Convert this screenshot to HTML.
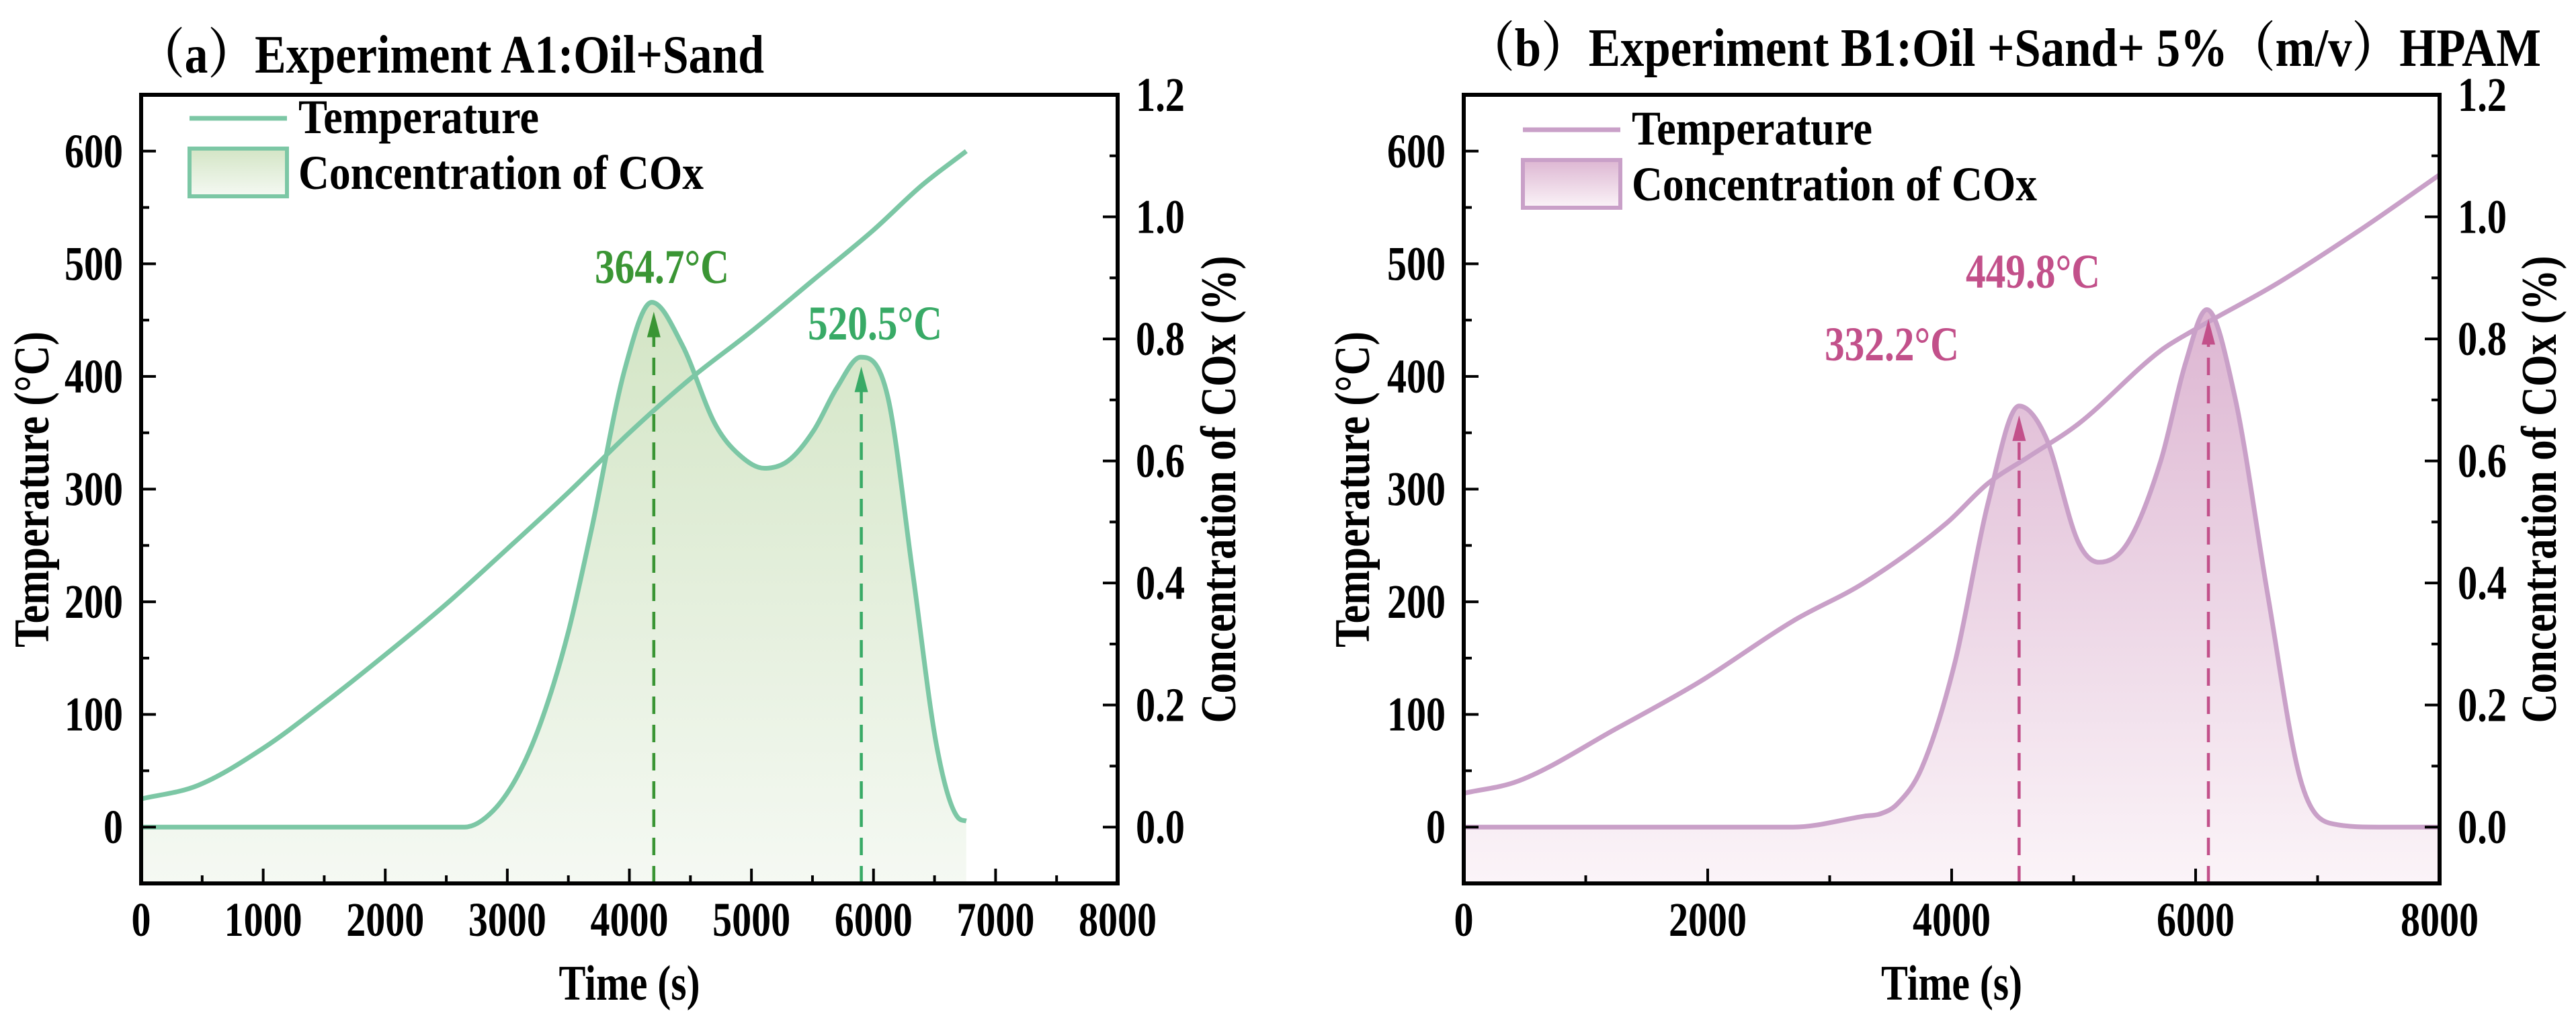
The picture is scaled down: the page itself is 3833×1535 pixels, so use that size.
<!DOCTYPE html>
<html><head><meta charset="utf-8"><style>
html,body{margin:0;padding:0;background:#fff;}
svg{display:block;font-family:"Liberation Serif","Noto Serif CJK SC",serif;font-weight:bold;}
</style></head><body>
<svg id="chart" xmlns="http://www.w3.org/2000/svg" width="3833" height="1535" viewBox="0 0 3833 1535">
<defs>
<linearGradient id="gA" x1="0" y1="0" x2="0" y2="1"><stop offset="0" stop-color="#d3e5c5"/><stop offset="1" stop-color="#f5f9f3"/></linearGradient>
<linearGradient id="gB" x1="0" y1="0" x2="0" y2="1"><stop offset="0" stop-color="#ddb6d2"/><stop offset="1" stop-color="#fbf4f8"/></linearGradient>
</defs>
</svg>
<script>
// Panel A data
const aTempT = [0,465,1000,1500,2000,2500,3000,3500,4000,4500,5000,5500,6000,6400,6760];
const aTempV = [25,37,70,110,153,198,247,297,350,398,440,485,530,570,600];
const aCoxT = [0,1000,2000,2650,2885,3100,3290,3500,3692,3962,4184,4433,4703,4900,5108,5300,5511,5700,5895,6117,6319,6520,6690,6760];
const aCoxV = [0,0,0,0,0.027,0.09,0.18,0.32,0.49,0.75,0.86,0.79,0.66,0.61,0.588,0.6,0.65,0.72,0.77,0.705,0.42,0.13,0.016,0.01];
const aPeakT = [4200,5900];
const aPeakLabels = ["364.7°C","520.5°C"];
// Panel B data
const bTempT = [0,450,1260,1935,2700,3285,3960,4297,4635,5040,5714,5984,6660,7334,8000];
const bTempV = [30,41,88,129,183,217,270,305,329,358,423,441,482,529,579];
const bCoxT = [0,1000,2000,2700,3285,3420,3555,3757,4027,4297,4553,4769,5040,5208,5444,5714,5917,6092,6322,6592,6862,7132,7500,8000];
const bCoxV = [0,0,0,0,0.018,0.022,0.038,0.098,0.27,0.53,0.69,0.64,0.466,0.434,0.466,0.6,0.76,0.848,0.705,0.38,0.076,0.005,0,0];
const bPeakT = [4553,6105];
const bPeakLabels = ["332.2°C","449.8°C"];
const xTicksA = [0,1000,2000,3000,4000,5000,6000,7000,8000];
const xTicksB = [0,2000,4000,6000,8000];
const yTicksL = [0,100,200,300,400,500,600];
const yTicksR = [0.0,0.2,0.4,0.6,0.8,1.0,1.2];

const NS="http://www.w3.org/2000/svg";
const svg=document.getElementById('chart');
function mk(tag,attrs,parent){const e=document.createElementNS(NS,tag);for(const k in attrs)e.setAttribute(k,attrs[k]);(parent||svg).appendChild(e);return e;}
function smooth(p){ // monotone cubic
  const n=p.length,d=[],m=[];
  for(let i=0;i<n-1;i++)d.push((p[i+1][1]-p[i][1])/(p[i+1][0]-p[i][0]));
  m[0]=d[0];m[n-1]=d[n-2];
  for(let i=1;i<n-1;i++){m[i]=(d[i-1]*d[i]<=0)?0:(d[i-1]+d[i])/2;}
  for(let i=0;i<n-1;i++){if(d[i]===0){m[i]=0;m[i+1]=0;continue;}const a=m[i]/d[i],b=m[i+1]/d[i],s=a*a+b*b;if(s>9){const t=3/Math.sqrt(s);m[i]=t*a*d[i];m[i+1]=t*b*d[i];}}
  let s="M"+p[0][0].toFixed(1)+","+p[0][1].toFixed(1);
  for(let i=0;i<n-1;i++){const h=(p[i+1][0]-p[i][0])/3;s+=" C"+(p[i][0]+h).toFixed(1)+","+(p[i][1]+m[i]*h).toFixed(1)+" "+(p[i+1][0]-h).toFixed(1)+","+(p[i+1][1]-m[i+1]*h).toFixed(1)+" "+p[i+1][0].toFixed(1)+","+p[i+1][1].toFixed(1);}
  return s;}
function txt(s,attrs,parent,name){const e=mk('text',attrs,parent);e.textContent=s;return e;}

function panel(o){
  const g=mk('g',{});
  
  
  const L=o.L,R=o.R,T=141,B=1314;
  const xs=t=>L+(t/8000)*(R-L);
  const yl=v=>B-(v+50)/700*(B-T);
  const yr=v=>yl(0)-v*(yl(0)-T)/1.2;
  const cp=o.coxT.map((t,i)=>[xs(t),yr(o.coxV[i])]);
  const cd=smooth(cp);
  const fill=mk('path',{d:cd+" L"+cp[cp.length-1][0]+","+B+" L"+cp[0][0]+","+B+" Z",fill:o.grad,stroke:'none'},g);
  
  
  const cl=mk('path',{d:cd,fill:'none',stroke:o.line,'stroke-width':7,'stroke-linejoin':'round'},g);
  
  
  const tp=o.tempT.map((t,i)=>[xs(t),yl(o.tempV[i])]);
  const tl=mk('path',{d:smooth(tp),fill:'none',stroke:o.line,'stroke-width':7,'stroke-linejoin':'round'},g);
  
  
  o.peakT.forEach((pt,i)=>{
    let best=0;o.coxT.forEach((t,j)=>{if(Math.abs(t-pt)<Math.abs(o.coxT[best]-pt))best=j;});
    const py=yr(o.coxV[best])+14,px=xs(pt);
    const ln=mk('line',{x1:px,y1:B,x2:px,y2:py+30,stroke:o.arrow[i],'stroke-width':4.5,'stroke-dasharray':'26,16'},g);
    
    
    const hd=mk('polygon',{points:`${px-10},${py+38} ${px+10},${py+38} ${px},${py}`,fill:o.arrow[i]},g);
    
    
    txt(o.peakLabels[i],{x:o.labX[i],y:o.labY[i],'text-anchor':'middle','font-size':72,fill:o.arrow[i],textLength:o.labW,lengthAdjust:'spacingAndGlyphs'},g,'peak-label');
  });
  const fr=mk('rect',{x:L,y:T,width:R-L,height:B-T,fill:'none',stroke:'#000','stroke-width':6},g);
  
  
  for(let t=0;t<=8000;t+=o.xMinor){const major=o.xTicks.includes(t);const tk=mk('line',{x1:xs(t),x2:xs(t),y1:B,y2:B-(major?22:12),stroke:'#000','stroke-width':4},g);}
  o.xTicks.forEach(t=>txt(String(t),{x:xs(t),y:1392,'text-anchor':'middle','font-size':72,textLength:String(t).length*29,lengthAdjust:'spacingAndGlyphs'},g,'x-tick-label'));
  for(let v=-50;v<=650;v+=50){const major=yTicksL.includes(v);const tk=mk('line',{x1:L,x2:L+(major?22:12),y1:yl(v),y2:yl(v),stroke:'#000','stroke-width':4},g);}
  yTicksL.forEach(v=>txt(String(v),{x:o.lLabR,y:yl(v)+24,'text-anchor':'end','font-size':72,textLength:String(v).length*29,lengthAdjust:'spacingAndGlyphs'},g,'y-left-tick-label'));
  for(let k=0;k<=12;k++){const v=k/10;const major=k%2===0;const tk=mk('line',{x1:R,x2:R-(major?22:12),y1:yr(v),y2:yr(v),stroke:'#000','stroke-width':4},g);}
  yTicksR.forEach(v=>txt(v.toFixed(1),{x:o.rLabL,y:yr(v)+24,'font-size':72,textLength:73,lengthAdjust:'spacingAndGlyphs'},g,'y-right-tick-label'));
  txt('Time (s)',{x:(L+R)/2,y:1487,'text-anchor':'middle','font-size':74,textLength:210,lengthAdjust:'spacingAndGlyphs'},g,'x-axis-title');
  txt('Temperature (°C)',{x:0,y:0,'text-anchor':'middle','font-size':74,textLength:470,lengthAdjust:'spacingAndGlyphs',transform:`translate(${o.lTitX},728) rotate(-90)`},g,'y-left-axis-title');
  txt('Concentration of COx (%)',{x:0,y:0,'text-anchor':'middle','font-size':74,textLength:695,lengthAdjust:'spacingAndGlyphs',transform:`translate(${o.rTitX},728) rotate(-90)`},g,'y-right-axis-title');
  txt(o.title,{x:o.titX,y:o.titY,'font-size':80,textLength:o.titW,lengthAdjust:'spacingAndGlyphs'},g,'chart-title');
  const lg=mk('g',{},g);
  
  
  const ll=mk('line',{x1:o.legX,x2:o.legX+145,y1:o.legY,y2:o.legY,stroke:o.line,'stroke-width':7},lg);
  
  
  txt('Temperature',{x:o.legX+162,y:o.legY+22,'font-size':72,textLength:358,lengthAdjust:'spacingAndGlyphs'},lg,'legend-temperature-label');
  const lb=mk('rect',{x:o.legX,y:o.legY+45,width:145,height:71,fill:o.grad,stroke:o.line,'stroke-width':6},lg);
  
  
  txt('Concentration of COx',{x:o.legX+162,y:o.legY+105,'font-size':72,textLength:603,lengthAdjust:'spacingAndGlyphs'},lg,'legend-cox-label');
}
panel({id:'a',L:210,R:1663,tempT:aTempT,tempV:aTempV,coxT:aCoxT,coxV:aCoxV,peakT:aPeakT,peakLabels:aPeakLabels,
  arrow:['#3a9534','#38aa66'],line:'#7cc7a5',grad:'url(#gA)',labX:[985,1302],labY:[421,505],labW:200,
  xTicks:xTicksA,xMinor:500,lLabR:183,rLabL:1690,lTitX:72,rTitX:1838,title:'（a）Experiment A1:Oil+Sand',titX:205,titY:108,titW:932,legX:282,legY:176});
panel({id:'b',L:2178,R:3630,tempT:bTempT,tempV:bTempV,coxT:bCoxT,coxV:bCoxV,peakT:bPeakT,peakLabels:bPeakLabels,
  arrow:['#c2508a','#c2508a'],line:'#c9a0c8',grad:'url(#gB)',labX:[2815,3025],labY:[536,428],labW:200,
  xTicks:xTicksB,xMinor:1000,lLabR:2151,rLabL:3657,lTitX:2037,rTitX:3803,title:'（b）Experiment B1:Oil +Sand+ 5%（m/v）HPAM',titX:2183,titY:98,titW:1598,legX:2266,legY:193});
</script>
</body></html>
